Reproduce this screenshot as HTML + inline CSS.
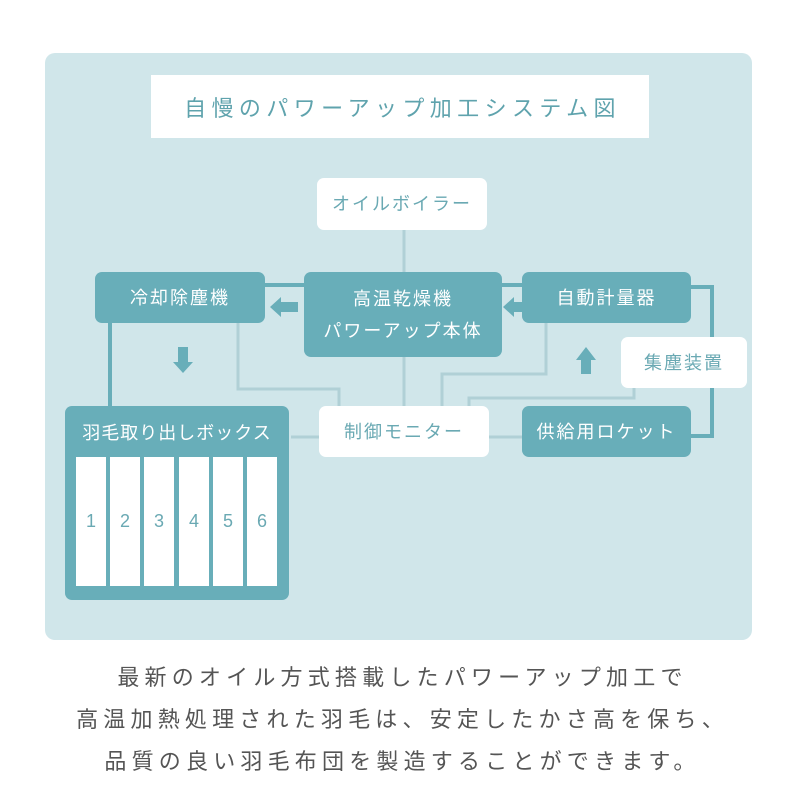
<!DOCTYPE html>
<html><head><meta charset="utf-8">
<style>
*{margin:0;padding:0;box-sizing:border-box}
body{width:800px;height:800px;background:#fff;position:relative;overflow:hidden;font-family:"Liberation Sans","Noto Sans CJK JP",sans-serif}
.panel{position:absolute;left:45px;top:53px;width:707px;height:587px;background:#d0e6ea;border-radius:10px}
.title{position:absolute;left:151px;top:75px;width:498px;height:63px;background:#fff;color:#5fa3ad;font-size:22px;letter-spacing:5.4px;display:flex;align-items:center;justify-content:center;padding-left:5px}
.n{position:absolute;border-radius:7px;display:flex;align-items:center;justify-content:center;text-align:center;font-size:18px;letter-spacing:2px;line-height:30px}
.d{background:#68aeb9;color:#fff}
.w{background:#fff;color:#6aa9b3}
.slot{position:absolute;top:457px;width:30px;height:129px;background:#fff;color:#6aa9b3;font-size:18px;display:flex;align-items:center;justify-content:center}
.txt{position:absolute;left:0;width:800px;text-align:center;color:#555;font-size:22px;letter-spacing:5.2px;padding-left:5px}
svg{position:absolute;left:0;top:0}
</style></head><body>
<div class="panel"></div>
<div class="title">自慢のパワーアップ加工システム図</div>
<svg width="800" height="800">
<g stroke="#b0d0d6" stroke-width="3" fill="none">
<path d="M404 230V272M404 357V406"/>
<path d="M238 323V389H339V406"/>
<path d="M546 323V374H442V406"/>
<path d="M634 388V398H469V406"/>
<path d="M291 437H319M489 437H522"/>
</g>
<g stroke="#68aeb9" stroke-width="4" fill="none">
<path d="M265 285H304M502 285H522"/>
<path d="M691 287H712V436H691"/>
<path d="M110 323V406"/>
</g>
<g fill="#68aeb9">
<path d="M270 307L281 297V302H298V312H281V317Z"/>
<path d="M503 307L514 297V302H522V312H514V317Z"/>
<path d="M178 347H188V362H193L183 373L173 362H178Z"/>
<path d="M581 374H591V360H596L586 347L576 360H581Z"/>
</g>
</svg>
<div class="n w" style="left:317px;top:178px;width:170px;height:52px">オイルボイラー</div>
<div class="n d" style="left:95px;top:272px;width:170px;height:51px">冷却除塵機</div>
<div class="n d" style="left:304px;top:272px;width:198px;height:85px;line-height:32px">高温乾燥機<br>パワーアップ本体</div>
<div class="n d" style="left:522px;top:272px;width:169px;height:51px">自動計量器</div>
<div class="n w" style="left:621px;top:337px;width:126px;height:51px">集塵装置</div>
<div class="n w" style="left:319px;top:406px;width:170px;height:51px">制御モニター</div>
<div class="n d" style="left:522px;top:406px;width:169px;height:51px">供給用ロケット</div>
<div class="n d" style="left:65px;top:406px;width:224px;height:194px;align-items:flex-start;padding-top:12px;letter-spacing:1px">羽毛取り出しボックス</div>
<div class="slot" style="left:76px">1</div>
<div class="slot" style="left:110px">2</div>
<div class="slot" style="left:144px">3</div>
<div class="slot" style="left:179px">4</div>
<div class="slot" style="left:213px">5</div>
<div class="slot" style="left:247px">6</div>
<div class="txt" style="top:660px">最新のオイル方式搭載したパワーアップ加工で</div>
<div class="txt" style="top:702px">高温加熱処理された羽毛は、安定したかさ高を保ち、</div>
<div class="txt" style="top:744px">品質の良い羽毛布団を製造することができます。</div>
</body></html>
